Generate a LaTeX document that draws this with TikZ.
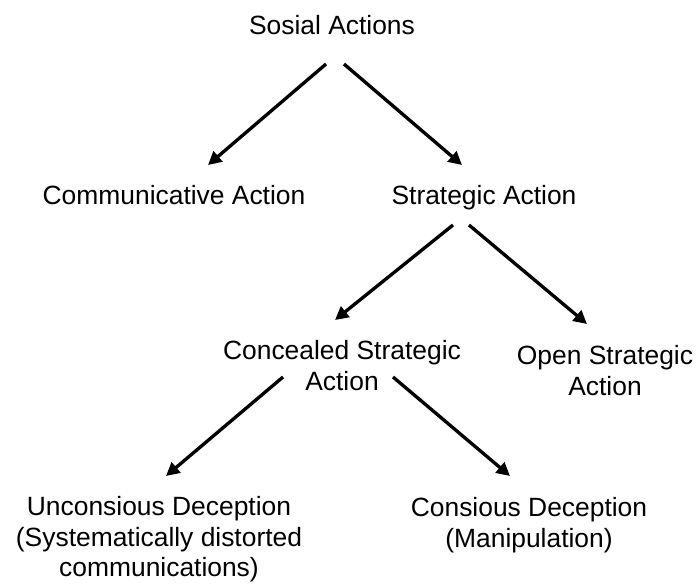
\documentclass[tikz,border=0pt]{standalone}
\usepackage{fontspec}
\setmainfont{Liberation Sans}
\usetikzlibrary{arrows.meta}

\begin{document}
\begin{tikzpicture}[x=0.75pt, y=-0.75pt, >={Triangle[length=10pt, width=10pt]},
    every node/.style={align=center, anchor=north, inner sep=0pt, font=\fontsize{19.8pt}{23pt}\selectfont},
    link/.style={->, line width=2.5pt}]
        \useasboundingbox (0,0) rectangle (696,583);
        \node (root) at (332,15) {Sosial Actions};
        \node (comm) at (174,185) {Communicative Action};
        \node (strat) at (484,185) {Strategic Action};
        \node (conc) at (342,340) {Concealed Strategic\\Action};
        \node (open) at (605,345) {Open Strategic\\Action};
        \node (uncons) at (159,496) {Unconsious Deception\\(Systematically distorted\\communications)};
        \node (cons) at (529,497) {Consious Deception\\(Manipulation)};
        \draw[link] ([shift={(-6,49)}]root.north) -- ([shift={(34,-20)}]comm.north);
        \draw[link] ([shift={(12,49)}]root.north) -- ([shift={(-22,-20)}]strat.north);
        \draw[link] ([shift={(-31,40)}]strat.north) -- ([shift={(-7,-20)}]conc.north);
        \draw[link] ([shift={(-15,40)}]strat.north) -- ([shift={(-18,-21)}]open.north);
        \draw[link] ([shift={(-59,37)}]conc.north) -- ([shift={(7,-20)}]uncons.north);
        \draw[link] ([shift={(51,37)}]conc.north) -- ([shift={(-19,-21)}]cons.north);
      \end{tikzpicture}
\end{document}
